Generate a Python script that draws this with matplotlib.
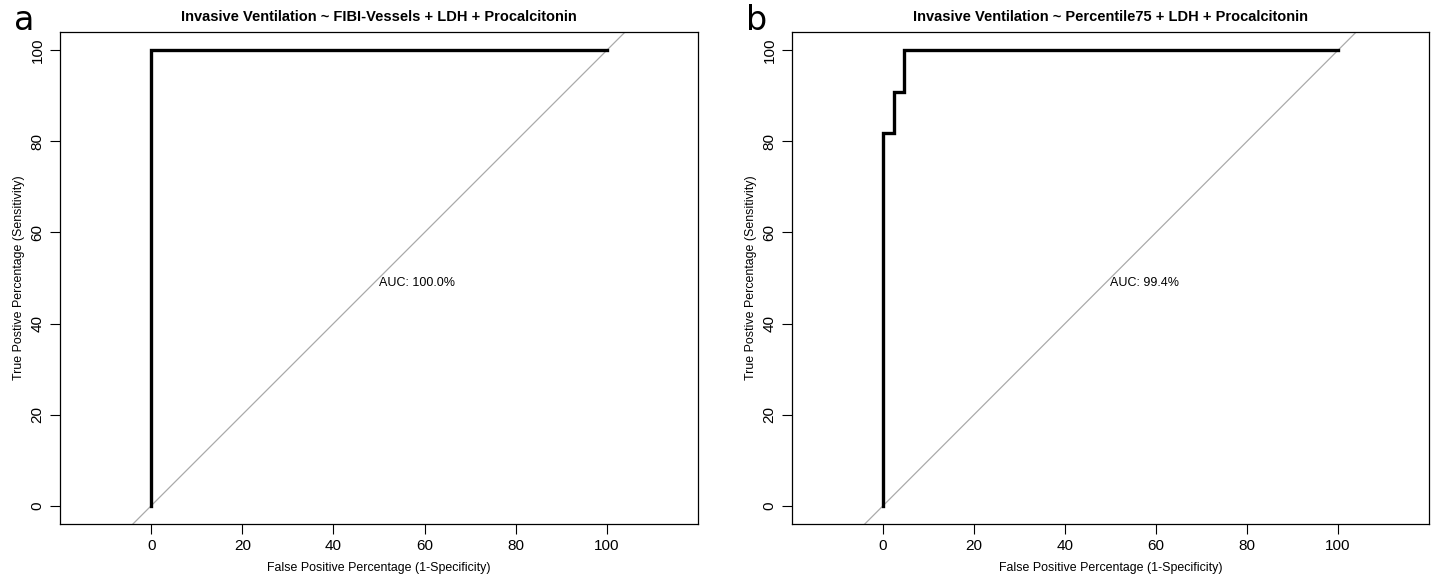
import numpy as np
import matplotlib
matplotlib.use('Agg')
import matplotlib.pyplot as plt

plt.rcParams['font.family'] = ['Liberation Sans', 'DejaVu Sans']

# ROC curves (false positive %, true positive %)
fpr_a = [0, 0, 100]
tpr_a = [0, 100, 100]
fpr_b = [0, 0, 2.33, 2.33, 4.65, 4.65, 100]
tpr_b = [0, 81.8, 81.8, 90.9, 90.9, 100, 100]

titles = ['Invasive Ventilation ~ FIBI-Vessels + LDH + Procalcitonin',
          'Invasive Ventilation ~ Percentile75 + LDH + Procalcitonin']
auc_labels = ['AUC: 100.0%', 'AUC: 99.4%']
panel_labels = ['a', 'b']
ticks = [0, 20, 40, 60, 80, 100]

fig = plt.figure(figsize=(14.34, 5.78), dpi=100)
boxes = [[60/1434, 54/578, 638/1434, 492/578],
         [792/1434, 54/578, 637/1434, 492/578]]
curves = [(fpr_a, tpr_a), (fpr_b, tpr_b)]

for i in range(2):
    ax = fig.add_axes(boxes[i])
    fpr, tpr = curves[i]
    ax.plot([-50, 150], [-50, 150], c='#aaaaaa', lw=0.9, zorder=1)
    ax.plot(fpr, tpr, c='black', lw=2.4, solid_joinstyle='miter', zorder=2)
    ax.set_xlim(-20, 120)
    ax.set_ylim(-4, 104)
    ax.set_xticks(ticks)
    ax.set_yticks(ticks)
    ax.set_xticklabels([str(t) for t in ticks], fontsize=11)
    ax.set_yticklabels([str(t) for t in ticks], fontsize=11, rotation=90, va='center')
    ax.tick_params(direction='out', length=7, width=0.8, pad=4)
    for s in ax.spines.values():
        s.set_linewidth(0.9)
    ax.set_xlabel('False Positive Percentage (1-Specificity)', fontsize=8.9, labelpad=6)
    ax.set_ylabel('True Postive Percentage (Sensitivity)', fontsize=8.9, labelpad=4)
    ax.set_title(titles[i], fontsize=10.5, fontweight='bold', pad=8)
    ax.text(50, 49, auc_labels[i], fontsize=9, ha='left', va='center')
    fig.text(boxes[i][0] - 46/1434, 1 - 20/578, panel_labels[i], fontsize=24, va='center', ha='left',
             family='DejaVu Sans')

fig.savefig('out.png', dpi=100)
